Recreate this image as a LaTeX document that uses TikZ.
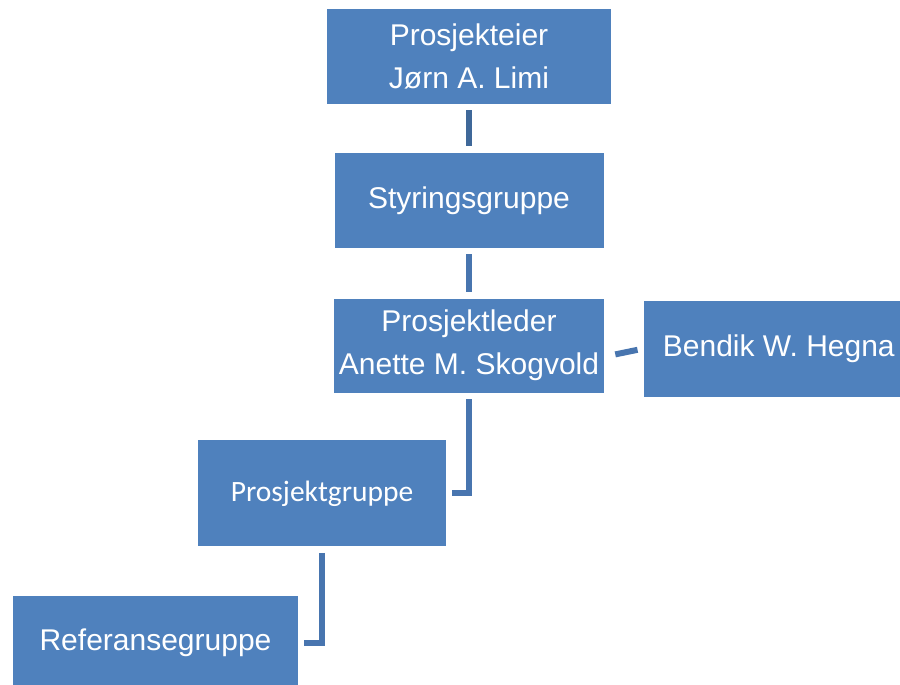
\documentclass[tikz,border=0pt]{standalone}
\usepackage{fontspec}
\setmainfont{Liberation Sans}
\newfontfamily\calibrifont{Carlito}
\usepackage{tikz}
\usetikzlibrary{positioning}
\definecolor{hblue}{RGB}{79,129,189}
\definecolor{hdark}{RGB}{63,104,153}
\definecolor{hline}{RGB}{72,117,175}

\begin{document}
\begin{tikzpicture}[shorten >=3pt,shorten <=3pt,
	box/.style={fill=hblue,text=white,inner sep=0pt,align=center,font=\fontsize{15pt}{21.5pt}\selectfont},
	link/.style={draw=hline,line width=3pt}]
	  \useasboundingbox (0,0) rectangle (450pt,-342.5pt);
	  \node[box, minimum width=142pt, minimum height=47.5pt] (A) at (234.5pt,-28.25pt) {Prosjekteier\\Jørn A. Limi};
	  \node[box, minimum width=134.5pt, minimum height=47.5pt] (B) [below=24pt of A] {Styringsgruppe};
	  \node[box, minimum width=135pt, minimum height=47pt] (C) [below=25pt of B] {Prosjektleder\\Anette M. Skogvold};
	  \node[box, minimum width=135pt, minimum height=48pt] (D) [right=19.5pt of C, yshift=-1.5pt] {Bendik W. Hegna};
	  \node[box, minimum width=124pt, minimum height=53pt, font=\calibrifont\fontsize{14.75pt}{18pt}\selectfont] (E) [below=23.5pt of C, xshift=-73.5pt] {Prosjektgruppe};
	  \node[box, minimum width=142.5pt, minimum height=47pt] (F) [below=24.5pt of E, xshift=-83.25pt] {Referansegruppe};

	  \path[link]
		(A.south) edge [draw=hdark] (B.north)
		(B.south) edge (C.north)
		([shift={(2.5pt,-5pt)}]C.east) edge (D.west)
	;
	  \draw[link] (C.south) |- (E.east);
	  \draw[link] (E.south) |- (F.east);
	\end{tikzpicture}
\end{document}
